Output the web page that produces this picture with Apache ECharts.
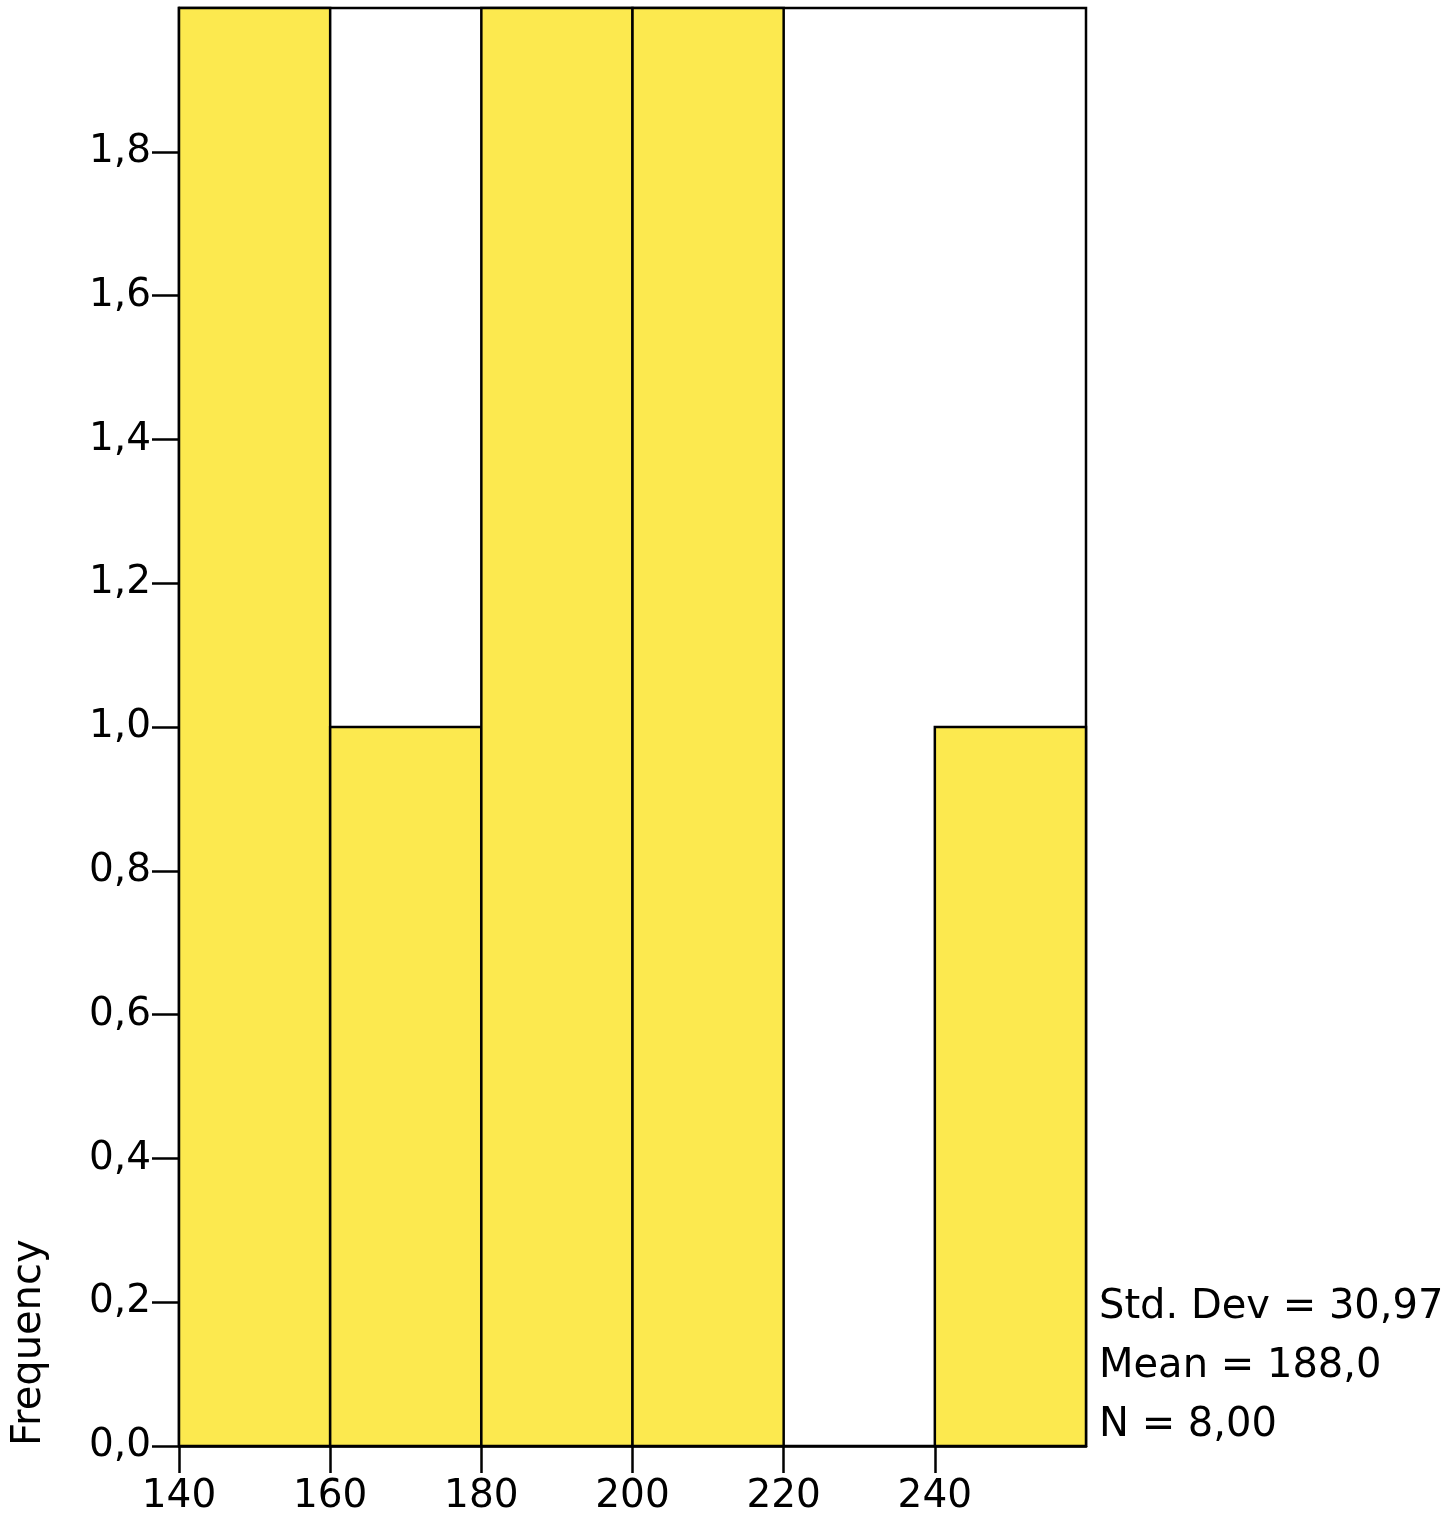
<!DOCTYPE html>
<html>
<head>
<meta charset="utf-8">
<script src="https://cdn.jsdelivr.net/npm/echarts@6/dist/echarts.min.js"></script>
<style>
  html, body { margin: 0; padding: 0; background: #fff; }
  #main { width: 1451px; height: 1519px; }
</style>
</head>
<body>
<div id="main"></div>
<script>
// histogram bins and counts
var binStarts = [140, 160, 180, 200, 220, 240];
var binWidth = 20;
var counts = [2, 1, 2, 2, 0, 1];
var xTicks = [140, 160, 180, 200, 220, 240];
var yTicks = [0, 0.2, 0.4, 0.6, 0.8, 1.0, 1.2, 1.4, 1.6, 1.8];
var statLines = ['Std. Dev = 30,97', 'Mean = 188,0', 'N = 8,00'];

var font = 'DejaVu Sans';
var chart = echarts.init(document.getElementById('main'));

var barData = [];
for (var i = 0; i < binStarts.length; i++) {
  barData.push([binStarts[i], binStarts[i] + binWidth, counts[i]]);
}

var option = {
  animation: false,
  backgroundColor: '#fff',
  grid: {
    left: 179, top: 8, right: 365, bottom: 73,
    show: true, borderColor: '#000', borderWidth: 2.5, backgroundColor: 'transparent'
  },
  xAxis: {
    type: 'value', min: 140, max: 260, interval: 20,
    axisLine: { lineStyle: { color: '#000', width: 2.5 } },
    axisTick: { show: true, length: 27, lineStyle: { color: '#000', width: 2.5 }, customValues: xTicks },
    axisLabel: {
      customValues: xTicks, color: '#000', fontFamily: font, fontSize: 39, margin: 31
    },
    splitLine: { show: false }
  },
  yAxis: {
    type: 'value', min: 0, max: 2, interval: 0.2,
    axisLine: { show: true, lineStyle: { color: '#000', width: 2.5 } },
    axisTick: { show: true, length: 27, lineStyle: { color: '#000', width: 2.5 }, customValues: yTicks },
    axisLabel: {
      customValues: yTicks, color: '#000', fontFamily: font, fontSize: 39, margin: 28,
      formatter: function (v) { return v.toFixed(1).replace('.', ','); }
    },
    splitLine: { show: false }
  },
  series: [{
    type: 'custom',
    data: barData,
    renderItem: function (params, api) {
      var p0 = api.coord([api.value(0), 0]);
      var p1 = api.coord([api.value(1), api.value(2)]);
      if (api.value(2) <= 0) return null;
      return {
        type: 'rect',
        shape: { x: p0[0], y: p1[1], width: p1[0] - p0[0], height: p0[1] - p1[1] },
        style: { fill: '#fce94f', stroke: '#000', lineWidth: 2.5 }
      };
    },
    encode: { x: [0, 1], y: 2 },
    z: 1
  }],
  graphic: [
    {
      type: 'text', left: 10, bottom: 73, rotation: Math.PI / 2,
      style: { text: 'Frequency', fontFamily: font, fontSize: 40, fill: '#000' }
    },
    {
      type: 'text', left: 1099, top: 1278,
      style: { text: statLines.join('\n'), fontFamily: font, fontSize: 40, lineHeight: 59, fill: '#000' }
    }
  ]
};
chart.setOption(option);
</script>
</body>
</html>
